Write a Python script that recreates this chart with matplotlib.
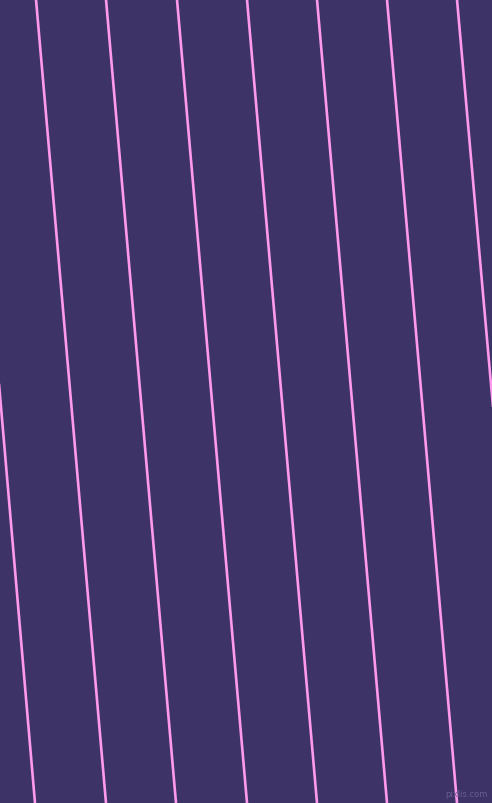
import matplotlib.pyplot as plt

# stripe positions in pixels, where each line crosses the top and bottom edge
top_x = [-34, 36, 106, 177, 247, 317, 387, 457]
bottom_x = [35, 106, 176, 247, 317, 387, 457, 528]
width, height = 492, 803

bg = "#3e3366"
line_color = "#ff99ee"

fig = plt.figure(figsize=(width / 100, (height + 0.5) / 100), dpi=100)
ax = fig.add_axes([0, 0, 1, 1])
ax.set_facecolor(bg)
fig.patch.set_facecolor(bg)

for x0, x1 in zip(top_x, bottom_x):
    ax.plot([x0, x1], [0, height], color=line_color, linewidth=1.9, solid_capstyle="butt")

ax.text(width - 4, height - 4, "pixlis.com", color="#6a5d8f", fontsize=6,
        ha="right", va="bottom")

ax.set_xlim(0, width)
ax.set_ylim(height, 0)
ax.axis("off")

fig.savefig("out.png", dpi=100, facecolor=bg)
